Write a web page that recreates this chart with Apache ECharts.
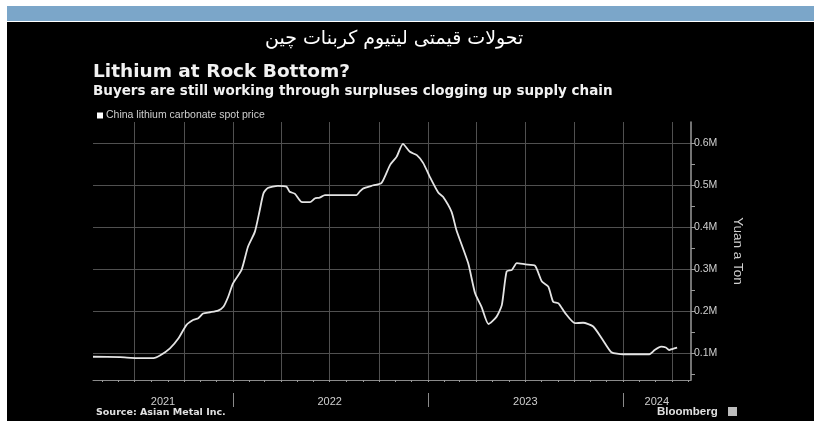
<!DOCTYPE html>
<html>
<head>
<meta charset="utf-8">
<script src="https://cdn.jsdelivr.net/npm/echarts@6/dist/echarts.min.js"></script>
<style>
html,body{margin:0;padding:0;background:#fff;}
#wrap{position:relative;width:814px;height:421px;background:#fff;overflow:hidden;}
#band{position:absolute;left:7px;top:6px;width:807px;height:15px;background:#7ba6c9;}
#main{position:absolute;left:7px;top:22px;width:807px;height:399px;background:#000;}
</style>
</head>
<body>
<div id="wrap">
  <div id="band"></div>
  <div id="main"></div>
</div>
<script>
// spot price, yuan per ton
var dates = ['2021-04-14','2021-06-04','2021-07-05','2021-08-05','2021-08-18','2021-09-05','2021-09-21','2021-10-06','2021-10-19','2021-10-28',
    '2021-11-06','2021-11-19','2021-12-04','2021-12-14','2021-12-23','2022-01-01','2022-01-17','2022-01-29','2022-02-11','2022-02-20',
    '2022-02-27','2022-03-07','2022-03-26','2022-04-11','2022-04-17','2022-04-27','2022-05-09','2022-05-25','2022-06-03','2022-06-12',
    '2022-06-22','2022-07-20','2022-08-20','2022-08-26','2022-09-02','2022-09-17','2022-10-06','2022-10-22','2022-11-03','2022-11-15',
    '2022-11-28','2022-12-11','2022-12-23','2023-01-04','2023-01-20','2023-01-29','2023-02-14','2023-02-23','2023-03-17','2023-03-30',
    '2023-04-11','2023-04-24','2023-05-09','2023-05-19','2023-05-28','2023-06-07','2023-06-16','2023-07-02','2023-07-20','2023-08-02',
    '2023-08-14','2023-08-23','2023-09-02','2023-09-14','2023-10-03','2023-10-18','2023-11-06','2023-11-24','2023-12-10','2024-01-01',
    '2024-02-19','2024-02-29','2024-03-12','2024-03-21','2024-03-27','2024-04-03','2024-04-11'];
var prices = [91000,90000,88000,88000,94500,111000,135000,167000,179000,183000,
    194000,197000,201000,210000,234000,266000,298000,353000,389000,440000,
    480000,493000,498000,496000,484000,479000,460000,459000,468000,470000,
    476000,476000,476000,484000,492000,498000,505000,548000,567000,598000,
    579000,571000,552000,520000,482000,472000,436000,393000,314000,242000,
    210000,169000,186000,214000,294000,298000,314000,311000,308000,270000,
    258000,222000,218000,196000,171000,172000,163000,131000,102000,97000,
    97000,107000,115000,113000,107000,110000,113000];

var yTicks = [100000,200000,300000,400000,500000,600000];
var yMinorTicks = [50000,150000,250000,350000,450000,550000];
var yearLabels = ['2021','2022','2023','2024'];
var yearLabelDates = ['2021-08-23','2022-07-01','2023-07-02','2024-03-04'];
var yearEdges = ['2022-01-01','2023-01-01','2024-01-01'];

function ts(s){
    var p = s.split('-');
    return Date.UTC(+p[0], +p[1]-1, +p[2]);
}
var xMin = ts('2021-04-14'), xMax = ts('2024-05-07');

var seriesData = [];
for (var i = 0; i < dates.length; i++) {
    seriesData.push([ts(dates[i]), prices[i]]);
}
// quarter grid lines and monthly ticks
var quarters = [], months = [];
for (var y = 2021; y <= 2024; y++) {
    for (var m = 0; m < 12; m++) {
        var t = Date.UTC(y, m, 1);
        if (t <= xMin || t >= xMax) continue;
        months.push(t);
        if (m % 3 === 0) quarters.push(t);
    }
}

var chart = echarts.init(document.getElementById('main'));
var txt = '#cfcfcf';
var gridColor = '#505050';

option = {
    backgroundColor: '#000',
    textStyle: {fontFamily: 'Liberation Sans'},
    animation: false,
    title: [
        {
            text: 'تحولات قیمتی لیتیوم کربنات چین',
            left: 258, top: 8, padding: 0,
            textStyle: {color: '#fff', fontSize: 19, fontWeight: 'normal', fontFamily: 'DejaVu Sans'}
        },
        {
            text: 'Lithium at Rock Bottom?',
            left: 86, top: 41, padding: 0,
            textStyle: {color: '#f2f2f2', fontSize: 18.5, fontWeight: 'bold', fontFamily: 'DejaVu Sans'}
        },
        {
            text: 'Buyers are still working through surpluses clogging up supply chain',
            left: 86, top: 62, padding: 0,
            textStyle: {color: '#f2f2f2', fontSize: 13.5, fontWeight: 'bold', fontFamily: 'DejaVu Sans'}
        },
        {
            text: 'Source: Asian Metal Inc.',
            left: 89, top: 386, padding: 0,
            textStyle: {color: '#e0e0e0', fontSize: 9.5, fontWeight: 'bold', fontFamily: 'DejaVu Sans'}
        },
        {
            text: 'Bloomberg',
            left: 650, top: 384, padding: 0,
            textStyle: {color: '#e0e0e0', fontSize: 11.5, fontWeight: 'bold'}
        }
    ],
    graphic: [
        {type: 'rect', left: 721, top: 385, shape: {width: 9, height: 9}, style: {fill: '#bdbdbd'}}
    ],
    legend: {
        left: 90, top: 88, padding: 0,
        icon: 'rect', itemWidth: 6, itemHeight: 6, itemGap: 4,
        textStyle: {color: txt, fontSize: 10.5, padding: [0, 0, 0, -2]},
        data: ['China lithium carbonate spot price']
    },
    grid: {left: 86, right: 123, top: 100, bottom: 41, outerBoundsMode: 'none'},
    xAxis: [
        {
            type: 'value', min: xMin, max: xMax, position: 'bottom',
            axisLine: {show: true, onZero: false, lineStyle: {color: '#8a8a8a', width: 1}},
            axisTick: {show: false, customValues: quarters},
            axisLabel: {show: false},
            splitLine: {show: true, lineStyle: {color: gridColor, width: 1}}
        },
        {
            type: 'value', min: xMin, max: xMax, position: 'bottom',
            axisLine: {show: false, onZero: false},
            axisTick: {show: true, customValues: months, length: 2, lineStyle: {color: '#9a9a9a'}},
            axisLabel: {show: false},
            splitLine: {show: false}
        },
        {
            type: 'value', min: xMin, max: xMax, position: 'bottom', offset: 13,
            axisLine: {show: false, onZero: false},
            axisTick: {show: true, customValues: yearEdges.map(ts), length: 14, lineStyle: {color: '#8a8a8a'}},
            axisLabel: {
                show: true, customValues: yearLabelDates.map(ts), margin: 3,
                color: txt, fontSize: 11,
                formatter: function (v) {
                    var yr = String(new Date(v).getUTCFullYear());
                    return yearLabels.indexOf(yr) >= 0 ? yr : '';
                }
            },
            splitLine: {show: false}
        }
    ],
    yAxis: [
        {
            type: 'value', min: 35700, max: 650000, position: 'right',
            name: 'Yuan a Ton', nameLocation: 'middle', nameGap: 40, nameRotate: -90,
            nameTextStyle: {color: txt, fontSize: 13.5},
            axisLine: {show: true, lineStyle: {color: '#9a9a9a', width: 1.5}},
            axisTick: {show: true, customValues: yTicks, length: 4, lineStyle: {color: '#9a9a9a'}},
            axisLabel: {
                show: true, customValues: yTicks, margin: 3, color: txt, fontSize: 10.5,
                formatter: function (v) { return (v / 1e6).toFixed(1) + 'M'; }
            },
            splitLine: {show: true, lineStyle: {color: gridColor, width: 1}}
        },
        {
            type: 'value', min: 35700, max: 650000, position: 'right',
            axisLine: {show: false},
            axisTick: {show: true, customValues: yMinorTicks, length: 4, lineStyle: {color: '#9a9a9a'}},
            axisLabel: {show: false},
            splitLine: {show: false}
        }
    ],
    series: [
        {
            name: 'China lithium carbonate spot price',
            type: 'line',
            xAxisIndex: 0, yAxisIndex: 0,
            showSymbol: false,
            smooth: 0.2,
            itemStyle: {color: '#ffffff'},
            lineStyle: {color: '#e4e4e4', width: 1.8},
            data: seriesData
        }
    ]
};
chart.setOption(option);
</script>
</body>
</html>
